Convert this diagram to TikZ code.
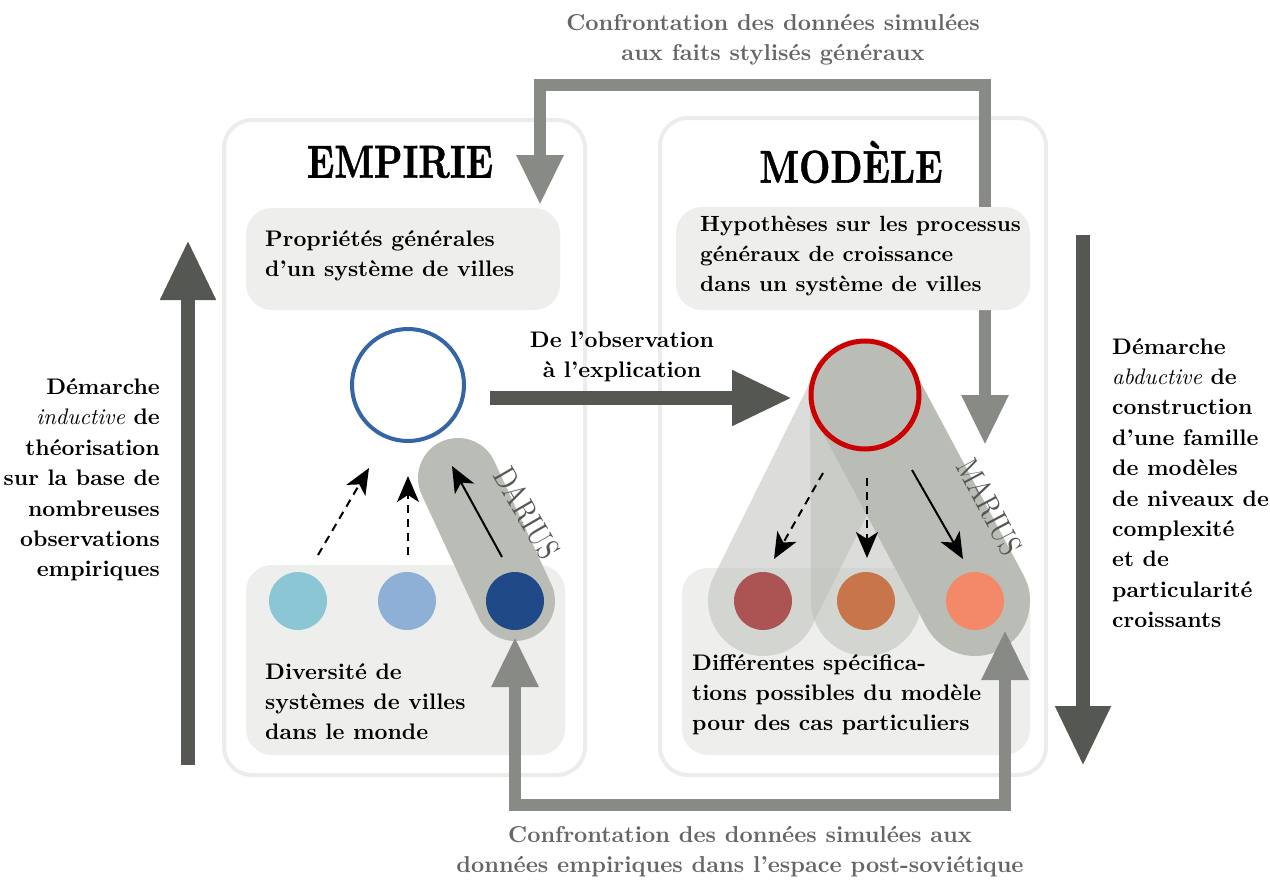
\documentclass[tikz,border=0pt]{standalone}
\usepackage{fontspec}
\setmainfont{lmroman10-regular.otf}[BoldFont=lmroman10-bold.otf, ItalicFont=lmroman10-italic.otf, BoldItalicFont=lmroman10-bolditalic.otf]
\newfontfamily\titlefont{lmroman10-bold.otf}[FakeBold=1.2]
\usetikzlibrary{arrows.meta}
\definecolor{boxline}{HTML}{ECECEA}
\definecolor{panelfill}{HTML}{EEEEEC}
\definecolor{capsule}{HTML}{BABDB6}
\definecolor{darkarrow}{HTML}{555753}
\definecolor{grayarrow}{HTML}{888A85}
\definecolor{obsblue}{HTML}{3465A4}
\definecolor{modred}{HTML}{CC0000}
\definecolor{cA}{HTML}{8AC6D3}
\definecolor{cB}{HTML}{8EB0D6}
\definecolor{cC}{HTML}{204A87}
\definecolor{rA}{HTML}{AC5454}
\definecolor{rB}{HTML}{C8754B}
\definecolor{rC}{HTML}{F4896A}
\definecolor{graytext}{HTML}{666666}
\begin{document}
\begin{tikzpicture}[x=1pt,y=-1pt,
  frame/.style={draw=boxline, line width=4pt, rounded corners=28pt, fill=white, inner sep=0pt},
  panel/.style={fill=panelfill, rounded corners=26pt, inner sep=0pt},
  txt/.style={font=\fontsize{22.5}{30}\selectfont\bfseries, inner sep=0pt},
  title/.style={font=\fontsize{46}{50}\selectfont\titlefont, inner sep=0pt},
  graytxt/.style={font=\fontsize{23}{30}\selectfont\bfseries, inner sep=0pt, text=graytext},
  sidetxt/.style={font=\fontsize{22.5}{30.4}\selectfont\bfseries, inner sep=0pt},
  city/.style={circle, minimum size=58pt, inner sep=0pt},
  bigarrow/.style={draw=darkarrow, line width=14pt, -{Triangle[length=60pt,width=52pt]}},
  loop/.style={draw=grayarrow, line width=12pt, line join=miter, {Triangle[length=50pt,width=44pt]}-{Triangle[length=50pt,width=44pt]}},
  smallarrow/.style={draw=black, line width=2pt, -{Stealth[length=26pt,width=22pt,inset=7pt]}},
  dasharrow/.style={smallarrow, dash pattern=on 8pt off 6pt},
  capname/.style={font=\fontsize{32}{32}\selectfont, text=darkarrow, inner sep=0pt}
]
\useasboundingbox (0,0) rectangle (1270,883);

% frames
\node[frame, minimum width=361pt, minimum height=655pt] (emp) at (404.5,447.5) {};
\node[frame, minimum width=386pt, minimum height=657pt] (mod) at (853,446.5) {};

% top feedback loop
\coordinate (tlA) at (540,205);
\coordinate (tlB) at (540,85);
\coordinate (tlC) at (985,85);
\coordinate (tlD) at (985,445);
\draw[loop] (tlA) -- (tlB) -- (tlC) -- (tlD);

% panels
\node[panel, minimum width=314pt, minimum height=102pt] (props) at (403,259) {};
\node[panel, minimum width=354pt, minimum height=103pt] (hyp) at (853,258.5) {};
\node[panel, minimum width=319pt, minimum height=190pt] (div) at (405.5,660) {};
\node[panel, minimum width=348pt, minimum height=187pt] (spec) at (856,661.5) {};

% node positions
\coordinate (obsC) at (408,385);
\coordinate (modC) at (865,395);
\coordinate (e1) at (298,601);
\coordinate (e2) at (407,601);
\coordinate (e3) at (515,601);
\coordinate (m1) at (763,601);
\coordinate (m2) at (866,601);
\coordinate (m3) at (975,601);
\coordinate (dTop) at (458,478);

% capsules
\draw[capsule, opacity=0.5, line width=110pt, line cap=round] (modC) -- (m1);
\draw[capsule, opacity=0.5, line width=110pt, line cap=round] (modC) -- (m2);
\draw[capsule, line width=110pt, line cap=round] (modC) -- (m3);
\draw[capsule, line width=80pt, line cap=round] (dTop) -- (e3);

% bottom feedback loop
\coordinate (blA) at (515,637);
\coordinate (blB) at (515,805);
\coordinate (blC) at (1005,805);
\coordinate (blD) at (1005,630);
\draw[loop] (blA) -- (blB) -- (blC) -- (blD);

% circles
\node[circle, draw=obsblue, line width=4pt, fill=white, minimum size=112pt, inner sep=0pt] (obs) at (obsC) {};
\node[circle, draw=modred, line width=5pt, fill=capsule, minimum size=108pt, inner sep=0pt] (modc) at (modC) {};
\node[city, fill=cA] (ca) at (e1) {};
\node[city, fill=cB] (cb) at (e2) {};
\node[city, fill=cC] (cc) at (e3) {};
\node[city, fill=rA] (ra) at (m1) {};
\node[city, fill=rB] (rb) at (m2) {};
\node[city, fill=rC] (rc) at (m3) {};

% small arrows
\coordinate (s1a) at (318,555); \coordinate (s1b) at (369,468);
\coordinate (s2a) at (408,555); \coordinate (s2b) at (408,476);
\coordinate (s3a) at (502,557); \coordinate (s3b) at (452,466);
\draw[dasharrow] (s1a) -- (s1b);
\draw[dasharrow] (s2a) -- (s2b);
\draw[smallarrow] (s3a) -- (s3b);
\coordinate (t1a) at (823,473); \coordinate (t1b) at (774,559);
\coordinate (t2a) at (867,478); \coordinate (t2b) at (867,558);
\coordinate (t3a) at (912,470); \coordinate (t3b) at (963,559);
\draw[dasharrow] (t1a) -- (t1b);
\draw[dasharrow] (t2a) -- (t2b);
\draw[smallarrow] (t3a) -- (t3b);

% big arrows
\coordinate (hA) at (490,398); \coordinate (hB) at (792,398);
\draw[bigarrow] (hA) -- (hB);
\coordinate (lA) at (188,765); \coordinate (lB) at (188,240);
\draw[bigarrow] (lA) -- (lB);
\coordinate (rA0) at (1083,235); \coordinate (rB0) at (1083,766);
\draw[bigarrow] (rA0) -- (rB0);

% titles
\node[title] (tEmp) at (400,162) {\scalebox{0.79}[1]{EMPIRIE}};
\node[title] (tMod) at (851,162) {\scalebox{0.79}[1]{MODÈLE}};

% texts
\node[txt, align=left, anchor=west] (tProps) at (265,256) {Propriétés générales\\d'un système de villes};
\node[txt, font=\fontsize{22}{30}\selectfont\bfseries, align=left, anchor=west] (tHyp) at (700,256) {Hypothèses sur les processus\\généraux de croissance\\dans un système de villes};
\node[txt, align=left, anchor=west] (tDiv) at (265,702) {Diversité de\\systèmes de villes\\dans le monde};
\node[txt, align=left, anchor=west] (tSpec) at (692,695) {Différentes spécifica-\\tions possibles du modèle\\pour des cas particuliers};
\node[txt, align=center] (tObs) at (622,357) {De l'observation\\à l'explication};
\node[graytxt, align=center] (tTop) at (773,40) {Confrontation des données simulées\\aux faits stylisés généraux};
\node[graytxt, align=center] (tBot) at (740,852) {Confrontation des données simulées aux\\données empiriques dans l'espace post-soviétique};
\node[sidetxt, align=right, anchor=east] (tLeft) at (160,480) {Démarche\\{\mdseries\itshape inductive} de\\théorisation\\sur la base de\\nombreuses\\observations\\empiriques};
\node[sidetxt, align=left, anchor=west] (tRight) at (1112,483) {Démarche\\{\mdseries\itshape abductive} de\\construction\\d'une famille\\de modèles\\de niveaux de\\complexité\\et de\\particularité\\croissants};

% model names
\node[capname, rotate=-60] (dar) at (527,513) {\scalebox{0.8}[1]{DARIUS}};
\node[capname, rotate=-62] (mar) at (990,507) {\scalebox{0.8}[1]{MARIUS}};
\end{tikzpicture}
\end{document}
